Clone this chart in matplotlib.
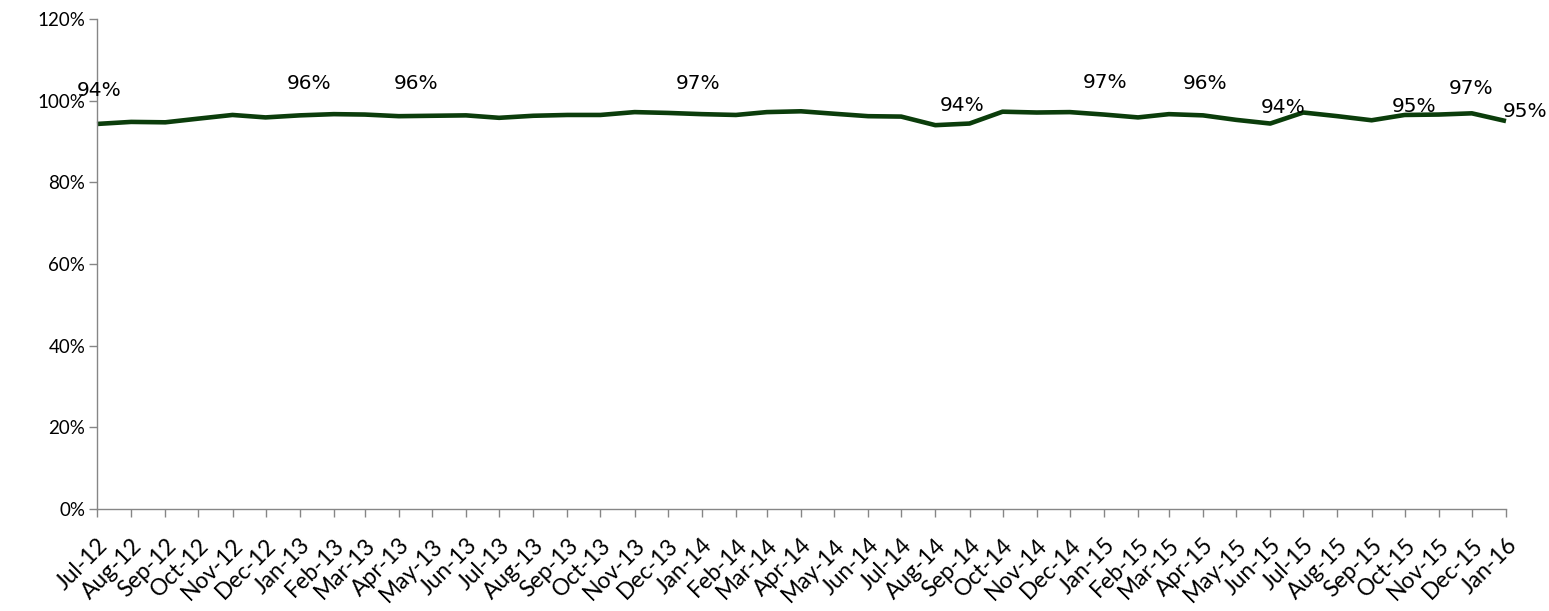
import matplotlib
matplotlib.use("Agg")
import matplotlib.pyplot as plt
import matplotlib.dates as mdates
from matplotlib.ticker import PercentFormatter, FixedLocator
from datetime import datetime

months = ["Jul-12", "Aug-12", "Sep-12", "Oct-12", "Nov-12", "Dec-12",
          "Jan-13", "Feb-13", "Mar-13", "Apr-13", "May-13", "Jun-13",
          "Jul-13", "Aug-13", "Sep-13", "Oct-13", "Nov-13", "Dec-13",
          "Jan-14", "Feb-14", "Mar-14", "Apr-14", "May-14", "Jun-14",
          "Jul-14", "Aug-14", "Sep-14", "Oct-14", "Nov-14", "Dec-14",
          "Jan-15", "Feb-15", "Mar-15", "Apr-15", "May-15", "Jun-15",
          "Jul-15", "Aug-15", "Sep-15", "Oct-15", "Nov-15", "Dec-15",
          "Jan-16"]

values = [94.3, 94.8, 94.7, 95.6, 96.5, 95.9,
          96.4, 96.7, 96.6, 96.2, 96.3, 96.4,
          95.8, 96.3, 96.5, 96.5, 97.2, 97.0,
          96.7, 96.5, 97.2, 97.4, 96.8, 96.2,
          96.1, 94.0, 94.4, 97.3, 97.1, 97.2,
          96.6, 95.9, 96.7, 96.4, 95.3, 94.4,
          97.1, 96.2, 95.2, 96.5, 96.6, 96.9,
          95.0]

label_months = ["Jul-12", "Jan-13", "Apr-13", "Jan-14", "Sep-14", "Jan-15",
                "Apr-15", "Jun-15", "Oct-15", "Dec-15", "Jan-16"]
label_texts = ["94%", "96%", "96%", "97%", "94%", "97%",
               "96%", "94%", "95%", "97%", "95%"]
# label offsets from their point, in pixels (dx right, dy up)
label_offsets_px = [(2, 33), (9, 32), (17, 33), (-4, 31), (-7, 18), (1, 32),
                    (2, 32), (13, 16), (9, 8), (-1, 25), (19, 10)]

yticks = [0, 20, 40, 60, 80, 100, 120]

dates = [datetime.strptime(m, "%b-%y") for m in months]

DPI = 100
fig = plt.figure(figsize=(15.49, 6.11), dpi=DPI)
ax = fig.add_axes([97/1549, 1 - 509/611, (1506 - 97)/1549, (509 - 19)/611])

line_color = "#0b3d0b"
ax.plot(dates, values, color=line_color, lw=3.3, solid_joinstyle="round",
        solid_capstyle="butt", clip_on=False)

ax.set_xlim(dates[0], dates[-1])
ax.set_ylim(0, 120)
ax.yaxis.set_major_locator(FixedLocator(yticks))
ax.yaxis.set_major_formatter(PercentFormatter(100, decimals=0))
ax.xaxis.set_major_locator(FixedLocator(mdates.date2num(dates)))
ax.set_xticklabels(months)

gray = "#868686"
for s in ["top", "right"]:
    ax.spines[s].set_visible(False)
for s in ["left", "bottom"]:
    ax.spines[s].set_color(gray)
    ax.spines[s].set_linewidth(1.0)

ax.tick_params(axis="both", colors=gray, length=5.5, width=1.0, direction="out")
ax.tick_params(axis="y", labelcolor="black", labelsize=13.5, pad=3)
ax.tick_params(axis="x", labelcolor="black", labelsize=16.5, pad=13)
for lab in ax.get_yticklabels():
    lab.set_fontfamily(["Lato", "DejaVu Sans"])
for lab in ax.get_xticklabels():
    lab.set_fontfamily(["Lato", "DejaVu Sans"])
    lab.set_rotation(45)
    lab.set_ha("right")
    lab.set_va("top")
    lab.set_rotation_mode("anchor")

px2pt = 72.0 / DPI
for m, t, (dx, dy) in zip(label_months, label_texts, label_offsets_px):
    i = months.index(m)
    ax.annotate(t, xy=(dates[i], values[i]), xytext=(dx * px2pt, dy * px2pt),
                textcoords="offset points", ha="center", va="center",
                fontsize=14.5, family=["DejaVu Sans"], color="black",
                annotation_clip=False)

fig.savefig("out.png", dpi=DPI)
